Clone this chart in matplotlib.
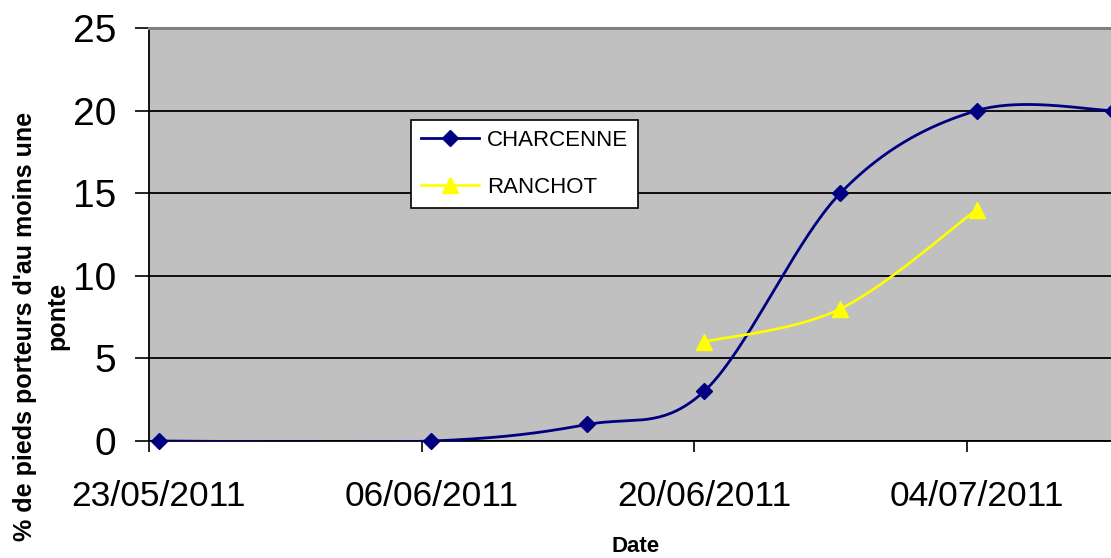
import numpy as np
import matplotlib
matplotlib.use('Agg')
import matplotlib.pyplot as plt
import matplotlib.dates as mdates
from matplotlib.ticker import FixedLocator, NullFormatter
from matplotlib.lines import Line2D
from datetime import datetime

plt.rcParams['font.family'] = ['Liberation Sans', 'DejaVu Sans']

# ---- data ----
charcenne_dates = ['2011-05-23', '2011-06-06', '2011-06-14', '2011-06-20',
                   '2011-06-27', '2011-07-04', '2011-07-11']
charcenne_values = [0, 0, 1, 3, 15, 20, 20]
ranchot_dates = ['2011-06-20', '2011-06-27', '2011-07-04']
ranchot_values = [6, 8, 14]
tick_dates = ['2011-05-23', '2011-06-06', '2011-06-20', '2011-07-04']
y_ticks = [0, 5, 10, 15, 20, 25]
series_names = ['CHARCENNE', 'RANCHOT']


def to_num(ds):
    return np.array([mdates.date2num(datetime.strptime(d, '%Y-%m-%d')) for d in ds])


def smooth(x, y, n=40):
    """Excel-style smoothed line: cubic Bezier segments with Catmull-Rom control points."""
    P = np.column_stack([np.asarray(x, float), np.asarray(y, float)])
    out = [P[0]]
    t = np.linspace(0, 1, n)[1:, None]
    for i in range(len(P) - 1):
        p0 = P[i - 1] if i > 0 else P[i]
        p1, p2 = P[i], P[i + 1]
        p3 = P[i + 2] if i + 2 < len(P) else P[i + 1]
        c1 = p1 + (p2 - p0) / 6
        c2 = p2 - (p3 - p1) / 6
        seg = (1 - t) ** 3 * p1 + 3 * (1 - t) ** 2 * t * c1 + 3 * (1 - t) * t ** 2 * c2 + t ** 3 * p2
        out.extend(seg)
    out = np.array(out)
    return out[:, 0], out[:, 1]


W, H = 1111, 558
fig = plt.figure(figsize=(W / 100, H / 100), dpi=100)
ax = fig.add_axes([149 / W, 1 - 441 / H, 1 - 149 / W, (441 - 28) / H])
ax.set_facecolor('#C0C0C0')

half = 0.5  # points sit in the middle of each day
xc = to_num(charcenne_dates) + half
xr = to_num(ranchot_dates) + half
navy = '#000080'
yellow = '#FFFF00'
c_style = dict(color=navy, lw=2.0, marker='D', ms=8.0)
r_style = dict(color=yellow, lw=1.9, marker='^', ms=11.5)

sx, sy = smooth(xc, charcenne_values)
ax.plot(sx, sy, color=navy, lw=c_style['lw'], zorder=3)
ax.plot(xc, charcenne_values, ls='none', marker='D', ms=c_style['ms'], color=navy,
        zorder=4, clip_on=False)
rx, ry = smooth(xr, ranchot_values)
ax.plot(rx, ry, color=yellow, lw=r_style['lw'], zorder=3)
ax.plot(xr, ranchot_values, ls='none', marker='^', ms=r_style['ms'], color=yellow, zorder=4)

t0 = to_num(tick_dates)
ax.set_xlim(t0[0], t0[0] + 49.4)
ax.set_ylim(0, 25)

ax.set_yticks(y_ticks)
ax.tick_params(axis='y', direction='out', length=10, width=1.2, labelsize=28, pad=13.5,
               color='black')
ax.yaxis.grid(True, color='black', lw=1.3)
ax.set_axisbelow(True)

ax.xaxis.set_major_locator(FixedLocator(t0 + half))
ax.xaxis.set_major_formatter(mdates.DateFormatter('%d/%m/%Y'))
ax.xaxis.set_minor_locator(FixedLocator(t0))
ax.xaxis.set_minor_formatter(NullFormatter())
ax.tick_params(axis='x', which='major', length=0, labelsize=25.5, pad=28)
ax.tick_params(axis='x', which='minor', direction='out', length=8, width=1.2, color='black')

for s in ['left', 'bottom']:
    ax.spines[s].set_color('black')
    ax.spines[s].set_linewidth(1.3)
ax.spines['top'].set_color('#808080')
ax.spines['top'].set_linewidth(2.2)
ax.spines['right'].set_visible(False)

fig.text(636 / W, 1 - 546 / H, 'Date', ha='center', va='center', fontsize=16, fontweight='bold')
fig.text(25.5 / W, 1 - 326 / H, "% de pieds porteurs d'au moins une", rotation=90,
         ha='center', va='center', fontsize=18, fontweight='bold')
fig.text(57 / W, 1 - 316 / H, 'ponte', rotation=90, ha='center', va='center',
         fontsize=18, fontweight='bold')

h1 = Line2D([], [], **c_style)
h2 = Line2D([], [], **r_style)
leg = ax.legend([h1, h2], series_names, loc='upper left',
                bbox_to_anchor=(411 / W, 1 - 120 / H), bbox_transform=fig.transFigure,
                borderaxespad=0, fancybox=False, framealpha=1, edgecolor='black',
                fontsize=16, handlelength=2.6, handletextpad=0.36, labelspacing=1.15,
                borderpad=0.45)
leg.get_frame().set_linewidth(1.2)
leg.set_zorder(5)

fig.savefig('out.png', dpi=100)
